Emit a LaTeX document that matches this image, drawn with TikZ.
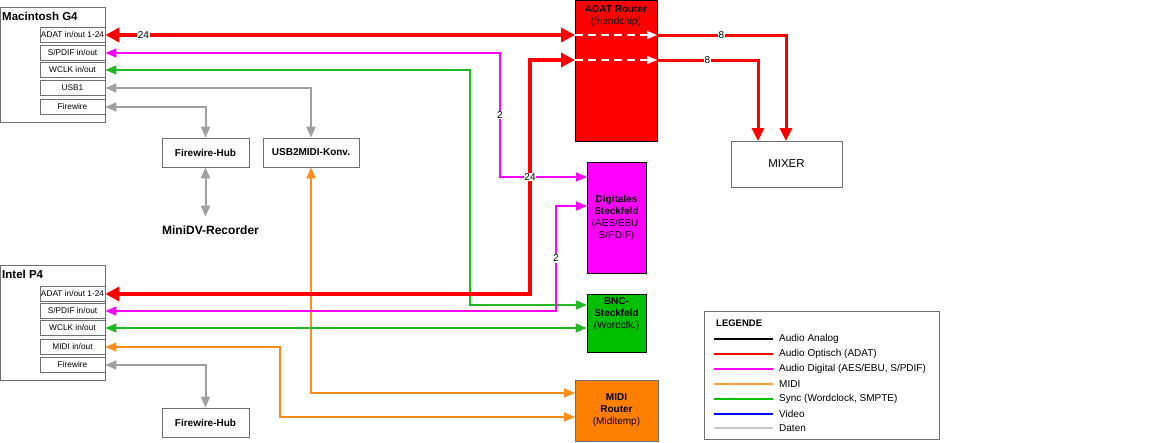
\documentclass[tikz,border=0pt]{standalone}
\usepackage{fontspec}
\setmainfont{Liberation Sans}
\usetikzlibrary{arrows.meta}
\definecolor{cred}{HTML}{FF0000}
\definecolor{cmag}{HTML}{FF00FF}
\definecolor{cgreen}{HTML}{00C000}
\definecolor{cgreenl}{HTML}{22B822}
\definecolor{corange}{HTML}{FF8000}
\definecolor{corangel}{HTML}{FF8C1A}
\definecolor{cgray}{HTML}{A0A0A0}
\definecolor{cborder}{HTML}{707070}
\definecolor{cblue}{HTML}{0000FF}
\definecolor{clight}{HTML}{C8C8C8}
\definecolor{clorange}{HTML}{FFA040}
\begin{document}
\begin{tikzpicture}[x=1pt,y=-1pt,
  comp/.style={draw=cborder, line width=0.8pt, inner sep=0, minimum width=105pt, minimum height=115pt},
  ctitle/.style={anchor=base west, inner sep=0, font=\bfseries\fontsize{11.5}{13}\selectfont},
  port/.style={draw=cborder, line width=0.8pt, fill=white, inner sep=0, minimum width=65pt, minimum height=14.5pt, font=\fontsize{8.3}{9}\selectfont},
  gbox/.style={draw=cborder, line width=0.8pt, fill=white, inner sep=0, minimum height=29pt, font=\bfseries\fontsize{10}{12}\selectfont},
  rbox/.style={draw=black, line width=0.8pt, inner sep=0, align=center, font=\fontsize{10}{12}\selectfont},
  lbl/.style={fill=white, inner sep=0.8pt, font=\fontsize{10}{11}\selectfont},
  adatline/.style={draw=cred, line width=4.5pt, >={Triangle[length=14pt,width=14pt]}},
  adatout/.style={draw=cred, line width=3pt, >={Triangle[length=13pt,width=12pt]}},
  digl/.style={draw=cmag, line width=1.5pt, >={Triangle[length=11pt,width=9pt]}},
  synl/.style={draw=cgreenl, line width=1.5pt, >={Triangle[length=11pt,width=9pt]}},
  midl/.style={draw=corangel, line width=1.5pt, >={Triangle[length=11pt,width=9pt]}},
  datl/.style={draw=cgray, line width=2pt, >={Triangle[length=11pt,width=9pt]}},
  whitel/.style={draw=white, line width=1.5pt, dash pattern=on 8pt off 5pt, >={Triangle[length=10pt,width=8pt]}},
  legl/.style={line width=1.3pt},
  legt/.style={anchor=west, inner sep=0, font=\fontsize{10}{12}\selectfont}
]
\useasboundingbox (0,0) rectangle (1162,442);

% --- Macintosh G4
\node[comp] (mac) at (52.5,64.5) {};
\node[ctitle] (mactitle) at (2,20) {Macintosh G4};
\node[port] (macadat)  at (72.5,35)  {ADAT in/out 1-24};
\node[port] (macspdif) at (72.5,53)  {S/PDIF in/out};
\node[port] (macwclk)  at (72.5,70)  {WCLK in/out};
\node[port] (macusb)   at (72.5,88)  {USB1};
\node[port] (macfw)    at (72.5,107) {Firewire};

% --- Intel P4
\node[comp] (intel) at (52.5,322.5) {};
\node[ctitle] (inteltitle) at (2,278) {Intel P4};
\node[port] (inteladat)  at (72.5,294) {ADAT in/out 1-24};
\node[port] (intelspdif) at (72.5,311) {S/PDIF in/out};
\node[port] (intelwclk)  at (72.5,328) {WCLK in/out};
\node[port] (intelmidi)  at (72.5,347) {MIDI in/out};
\node[port] (intelfw)    at (72.5,365) {Firewire};

% --- small grey boxes
\node[gbox, minimum width=87pt] (fw1) at (205.5,152.5) {Firewire-Hub};
\node[gbox, minimum width=96pt] (usbk) at (311,152.5) {USB2MIDI-Konv.};
\node[gbox, minimum width=87pt] (fw2) at (205.5,422.5) {Firewire-Hub};
\node[anchor=base, inner xsep=0, inner ysep=8.6pt, font=\bfseries\fontsize{12}{14}\selectfont] (minidv) at (210.5,234) {MiniDV-Recorder};

% --- routers / patch bays
\node[rbox, fill=cred, minimum width=82pt, minimum height=141pt,
  label={[anchor=north, align=center, inner sep=0, yshift=-5.5pt, font=\fontsize{10}{12.5}\selectfont]north:{\textbf{ADAT Router}\\(friendchip)}}] (adat) at (616,70.5) {};
\node[rbox, fill=cmag, minimum width=59pt, minimum height=111pt] (dig) at (616.5,217.5)
  {\textbf{Digitales}\\\textbf{Steckfeld}\\(AES/EBU,\\S/PDIF)};
\node[rbox, fill=cgreen, minimum width=59pt, minimum height=58pt,
  label={[anchor=north, align=center, inner sep=0, yshift=-4pt, font=\fontsize{10}{12}\selectfont]north:{\textbf{BNC-}\\\textbf{Steckfeld}\\(Wordclk.)}}] (bnc) at (616.5,323) {};
\node[rbox, fill=corange, draw=cborder, minimum width=83pt, minimum height=61pt] (midir) at (616.5,410.5)
  {\textbf{MIDI}\\\textbf{Router}\\(Miditemp)};
\node[draw=cborder, line width=0.8pt, minimum width=111pt, minimum height=46pt, inner sep=0, font=\fontsize{11.5}{13}\selectfont] (mixer) at (786.5,164) {MIXER};

% --- connection points
\coordinate (aiA) at (575,35);
\coordinate (aoA) at (657,35);
\coordinate (aiB) at (575,60);
\coordinate (aoB) at (657,60);
\coordinate (mixA) at (786,141);
\coordinate (mixB) at (758,141);
\coordinate (digA) at (587,177);
\coordinate (digB) at (587,206);
\coordinate (bncA) at (587,305);
\coordinate (midiA) at (575,393);
\coordinate (midiB) at (575,417);

% --- data (grey)
\draw[datl,<->] (macusb.east) -| (usbk.north);
\draw[datl,<->] (macfw.east) -| (fw1.north);
\draw[datl,<->] (fw1.south) -- (fw1.south |- minidv.north);
\draw[datl,<->] (intelfw.east) -| (fw2.north);

% --- MIDI (orange)
\draw[midl,<->] (usbk.south) |- (midiA);
\draw[midl,<->] (intelmidi.east) -| (280,417) -- (midiB);

% --- sync (green)
\draw[synl,<->] (macwclk.east) -| (470,305) -- (bncA);
\draw[synl,<->] (intelwclk.east) -- (intelwclk.east -| bnc.west);

% --- digital (magenta)
\draw[digl,<->] (macspdif.east) -| node[lbl,pos=0.75]{2} (500,177) -- (digA);
\draw[digl,<->] (intelspdif.east) -| node[lbl,pos=0.75]{2} (556,206) -- (digB);

% --- ADAT (red)
\draw[adatline,<->] (macadat.east) -- node[lbl,pos=0.081]{24} (aiA);
\draw[adatline,<->] (inteladat.east) -| node[lbl,pos=0.75]{24} (530,60) -- (aiB);
\draw[whitel,->] (aiA) -- (aoA);
\draw[whitel,->] (aiB) -- (aoB);
\draw[adatout,->] (aoA) -| node[lbl,pos=0.25]{8} (mixA);
\draw[adatout,->] (aoB) -| node[lbl,pos=0.25]{8} (mixB);

% --- legend
\node[draw=cborder, line width=0.8pt, minimum width=235pt, minimum height=128pt, inner sep=0] (leg) at (821.5,375) {};
\node[anchor=west, inner sep=0, font=\bfseries\fontsize{9.5}{11}\selectfont] (legtitle) at (716,323) {LEGENDE};
\draw[legl, black]   (714,339) -- (773,339); \node[legt] (l1) at (779,339) {Audio Analog};
\draw[legl, cred]    (714,354) -- (773,354); \node[legt] (l2) at (779,354) {Audio Optisch (ADAT)};
\draw[legl, cmag]    (714,369) -- (773,369); \node[legt] (l3) at (779,369) {Audio Digital (AES/EBU, S/PDIF)};
\draw[legl, clorange](714,384) -- (773,384); \node[legt] (l4) at (779,384) {MIDI};
\draw[legl, cgreen]  (714,399) -- (773,399); \node[legt] (l5) at (779,399) {Sync (Wordclock, SMPTE)};
\draw[legl, cblue]   (714,414) -- (773,414); \node[legt] (l6) at (779,414) {Video};
\draw[legl, clight]  (714,428) -- (773,428); \node[legt] (l7) at (779,428) {Daten};
\end{tikzpicture}
\end{document}
